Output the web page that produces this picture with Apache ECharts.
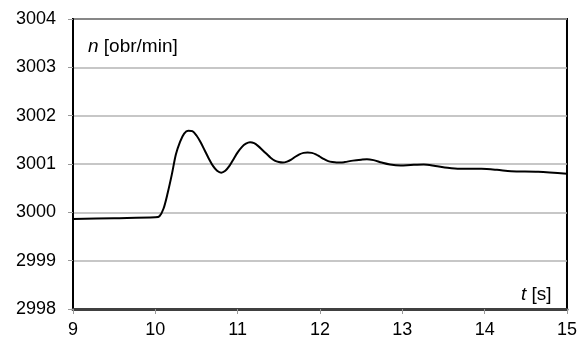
<!DOCTYPE html>
<html>
<head>
<meta charset="utf-8">
<script src="https://cdn.jsdelivr.net/npm/echarts@6/dist/echarts.min.js"></script>
<style>html,body{margin:0;padding:0;background:#fff}#c{width:580px;height:342px}</style>
</head>
<body>
<div id="c"></div>
<script>
const times = [9, 9.5, 10.00, 10.05, 10.10, 10.15, 10.20, 10.25, 10.30, 10.35, 10.40, 10.45, 10.50, 10.55, 10.60, 10.65, 10.70, 10.75, 10.80, 10.85, 10.90, 10.95, 11.00, 11.05, 11.10, 11.15, 11.20, 11.25, 11.30, 11.35, 11.40, 11.45, 11.50, 11.55, 11.60, 11.65, 11.70, 11.75, 11.80, 11.85, 11.90, 11.95, 12.00, 12.05, 12.10, 12.15, 12.20, 12.25, 12.30, 12.40, 12.50, 12.57, 12.65, 12.75, 12.85, 12.98, 13.10, 13.26, 13.40, 13.55, 13.70, 13.96, 14.15, 14.32, 14.65, 15.0];
const speed = [2999.86, 2999.88, 2999.90, 2999.92, 3000.08, 3000.40, 3000.78, 3001.20, 3001.46, 3001.63, 3001.69, 3001.68, 3001.59, 3001.45, 3001.28, 3001.11, 3000.96, 3000.86, 3000.82, 3000.86, 3000.96, 3001.10, 3001.24, 3001.35, 3001.42, 3001.45, 3001.43, 3001.37, 3001.29, 3001.21, 3001.13, 3001.07, 3001.04, 3001.03, 3001.05, 3001.09, 3001.15, 3001.20, 3001.23, 3001.24, 3001.23, 3001.20, 3001.15, 3001.10, 3001.06, 3001.04, 3001.03, 3001.03, 3001.04, 3001.07, 3001.09, 3001.10, 3001.08, 3001.03, 3000.99, 3000.97, 3000.98, 3000.99, 3000.96, 3000.92, 3000.90, 3000.90, 3000.88, 3000.85, 3000.84, 3000.80];
const xTicks = [9, 10, 11, 12, 13, 14, 15];
const yTicks = [2998, 2999, 3000, 3001, 3002, 3003, 3004];

const font = '"Liberation Sans", Arial, sans-serif';
const chart = echarts.init(document.getElementById('c'), null, {renderer: 'canvas'});
chart.setOption({
  animation: false,
  backgroundColor: '#fff',
  title: [
    {text: '{i|n} [obr/min]', left: 88, top: 37, padding: 0, textStyle: {fontFamily: font, fontSize: 19, fontWeight: 'normal', color: '#000',
      rich: {i: {fontStyle: 'italic', fontFamily: font, fontSize: 19, color: '#000'}}}},
    {text: '{i|t} [s]', left: 521, top: 285, padding: 0, textStyle: {fontFamily: font, fontSize: 19, fontWeight: 'normal', color: '#000',
      rich: {i: {fontStyle: 'italic', fontFamily: font, fontSize: 19, color: '#000'}}}}
  ],
  grid: {left: 73, top: 19, right: 11, bottom: 33, show: true, borderColor: '#000', borderWidth: 2, backgroundColor: 'transparent'},
  xAxis: {
    type: 'value', min: xTicks[0], max: xTicks[xTicks.length - 1], interval: 1,
    axisLine: {show: true, lineStyle: {color: '#404040', width: 3}},
    axisTick: {show: true, inside: false, length: 5, lineStyle: {color: '#999', width: 1}},
    axisLabel: {margin: 12, fontFamily: font, fontSize: 18, color: '#000', formatter: v => String(v)},
    splitLine: {show: false}
  },
  yAxis: {
    type: 'value', min: yTicks[0], max: yTicks[yTicks.length - 1], interval: 1,
    axisLine: {show: true, lineStyle: {color: '#000', width: 2}},
    axisTick: {show: true, inside: false, length: 5, lineStyle: {color: '#999', width: 1}},
    axisLabel: {margin: 17, fontFamily: font, fontSize: 18, color: '#000', formatter: v => String(v)},
    splitLine: {show: true, lineStyle: {color: '#b4b4b4', width: 1.5}}
  },
  series: [{
    type: 'line', data: times.map((t, i) => [t, speed[i]]), smooth: 0.3, showSymbol: false,
    lineStyle: {color: '#000', width: 2}, z: 3
  }]
});
</script>
</body>
</html>
